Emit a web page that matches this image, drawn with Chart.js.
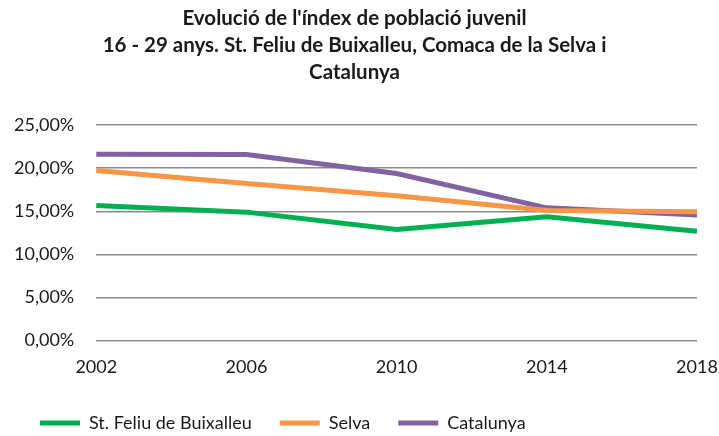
<!DOCTYPE html>
<html>
<head>
<meta charset="utf-8">
<script src="https://cdn.jsdelivr.net/npm/chart.js@4"></script>
<style>
  html, body { margin: 0; padding: 0; background: #fff; }
  #wrap { width: 719px; height: 436px; }
</style>
</head>
<body>
<div id="wrap"><canvas id="myChart"></canvas></div>
<script>
const years = ['2002', '2006', '2010', '2014', '2018'];
const feliu = [15.66, 14.9, 12.87, 14.35, 12.67];
const selva = [19.73, 18.22, 16.8, 15.08, 14.93];
const catalunya = [21.63, 21.6, 19.38, 15.4, 14.58];
const titleLines = [
  "Evolució de l'índex de població juvenil",
  "16 - 29 anys. St. Feliu de Buixalleu, Comaca de la Selva i",
  "Catalunya"
];

const font = "Lato, 'Open Sans', sans-serif";

function series(label, data, color) {
  return {
    label: label,
    data: data,
    borderColor: color,
    backgroundColor: color,
    borderWidth: 5,
    pointRadius: 0,
    fill: false,
    tension: 0
  };
}

new Chart(document.getElementById('myChart'), {
  type: 'line',
  data: {
    labels: years,
    datasets: [
      series('St. Feliu de Buixalleu', feliu, '#00b050'),
      series('Selva', selva, '#f79646'),
      series('Catalunya', catalunya, '#8064a2')
    ]
  },
  options: {
    responsive: true,
    maintainAspectRatio: false,
    animation: false,
    layout: { autoPadding: false, padding: { left: 12, right: 22, top: 5, bottom: -6 } },
    plugins: {
      title: {
        display: true,
        text: titleLines,
        color: '#1a1a1a',
        font: { family: font, size: 20.5, weight: 'bold', lineHeight: 1.32 },
        padding: { top: 0, bottom: 39 }
      },
      legend: {
        position: 'bottom',
        align: 'start',
        labels: {
          color: '#1a1a1a',
          font: { family: font, size: 18 },
          boxWidth: 40,
          boxHeight: 5,
          padding: 28,
          generateLabels: function(chart) {
            return Chart.defaults.plugins.legend.labels.generateLabels(chart).map(l => {
              l.lineWidth = 0;
              return l;
            });
          }
        }
      },
      tooltip: { enabled: false }
    },
    scales: {
      x: {
        offset: false,
        grid: { display: false },
        border: { display: false },
        ticks: { color: '#1a1a1a', font: { family: font, size: 18 }, padding: 8, maxRotation: 0 },
        afterFit: function(scale) {
          scale.paddingLeft = 0;
          scale.paddingRight = 0;
        }
      },
      y: {
        min: 0,
        max: 25,
        border: { display: false },
        grid: { color: '#8c8c8c', lineWidth: 1.5, tickLength: 20, tickColor: 'rgba(0,0,0,0)' },
        ticks: {
          stepSize: 5,
          color: '#1a1a1a',
          font: { family: font, size: 18 },
          padding: 2,
          callback: v => v.toFixed(2).replace('.', ',') + '%'
        }
      }
    }
  }
});
</script>
</body>
</html>
